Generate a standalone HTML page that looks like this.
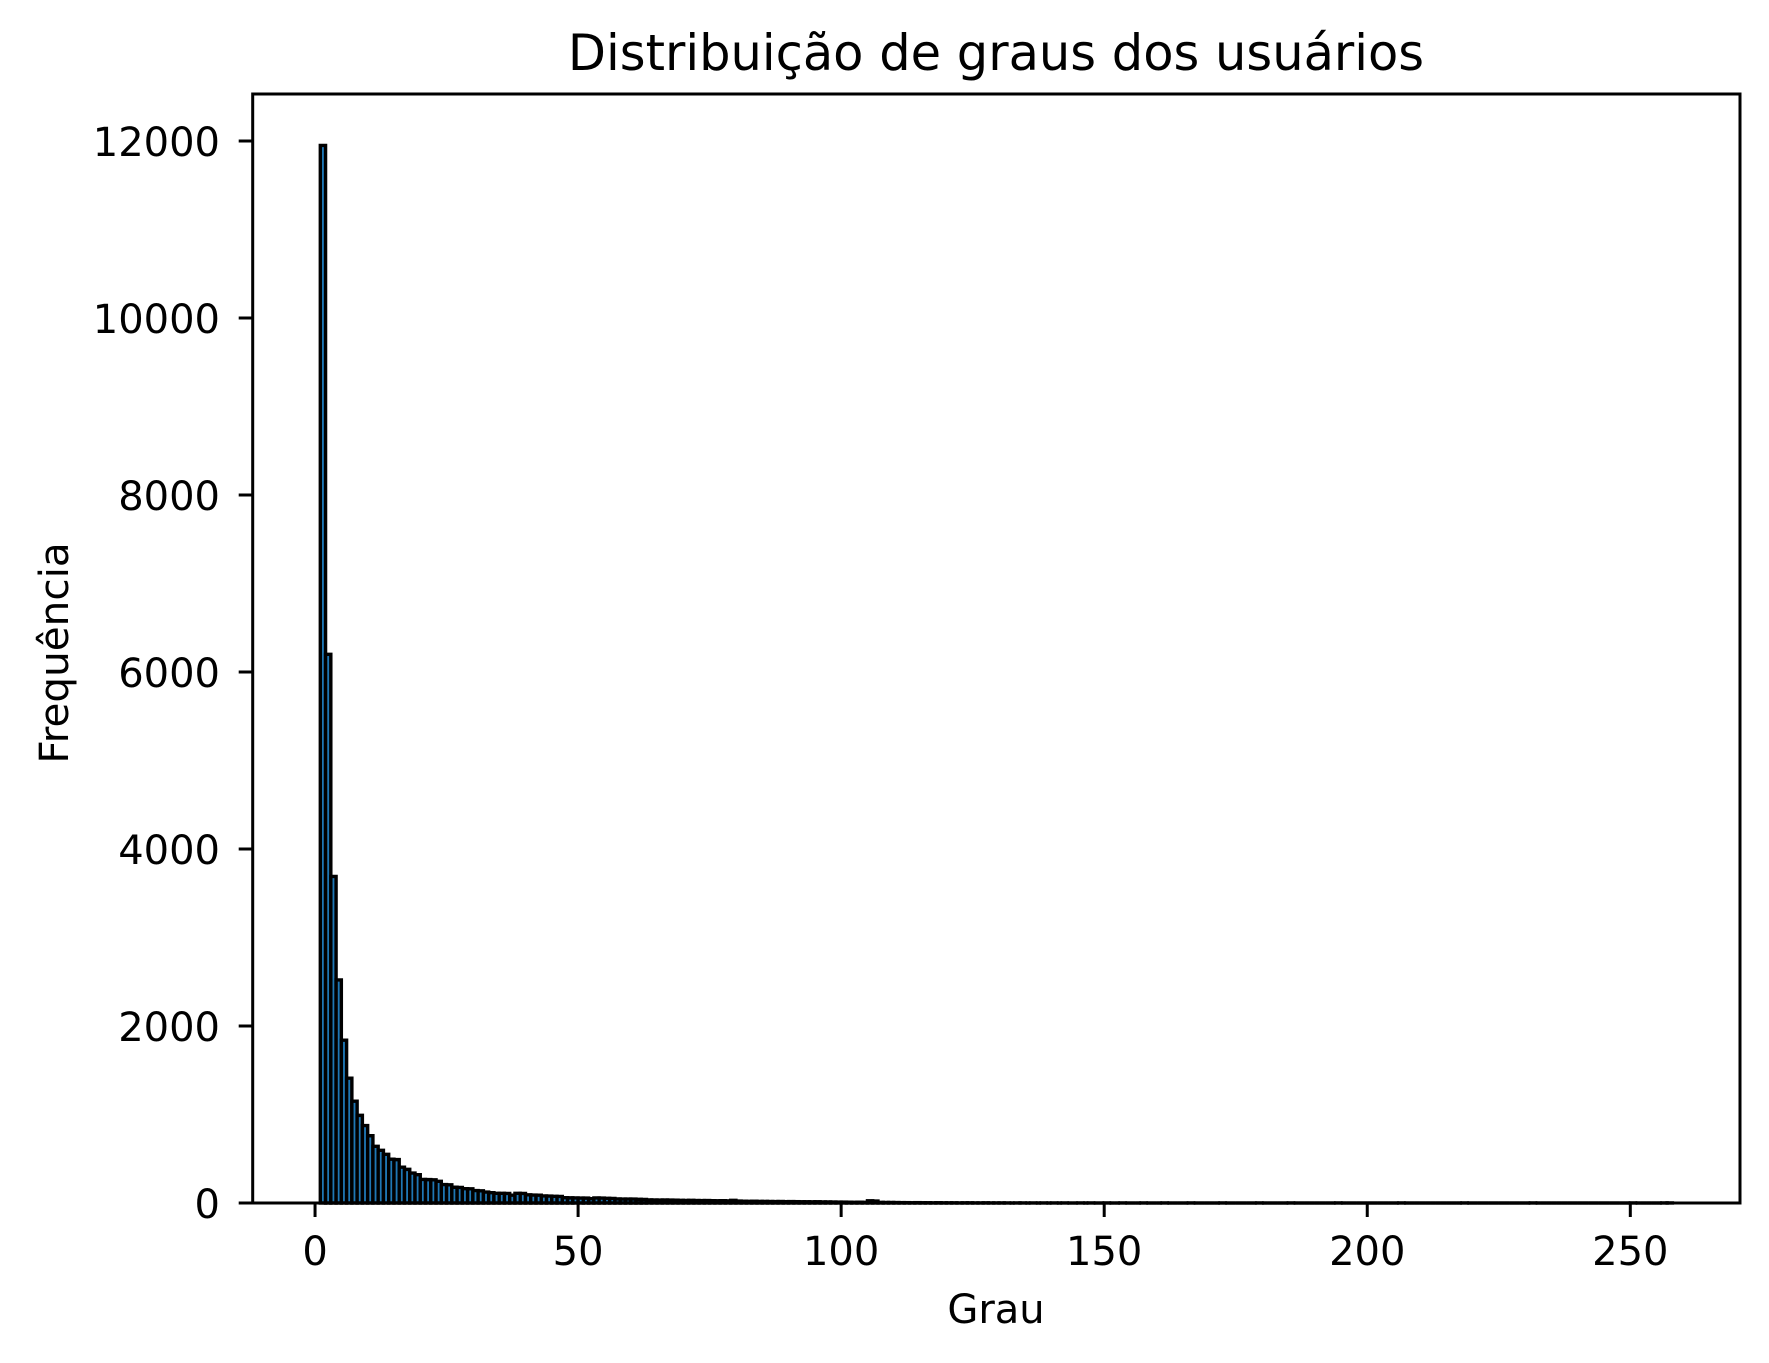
<!DOCTYPE html>
<html><head><meta charset="utf-8">
<style>
html,body{margin:0;padding:0;background:#fff;}
svg{display:block;font-family:"DejaVu Sans","Liberation Sans",sans-serif;}
</style></head>
<body>
<svg id="chart" width="1769" height="1363" viewBox="0 0 1769 1363" xmlns="http://www.w3.org/2000/svg">
<rect width="1769" height="1363" fill="#fff"/>
<g id="bars"></g>
<g id="axes"></g>
<text x="996" y="70" font-size="49.5" text-anchor="middle" fill="#000">Distribuição de graus dos usuários</text>
<text x="996" y="1323" font-size="40" text-anchor="middle" fill="#000">Grau</text>
<text x="68" y="653" font-size="40.5" text-anchor="middle" fill="#000" transform="rotate(-90 68 653)">Frequência</text>
</svg>
<script>
const binStart = 1;
const binWidth = 1;
const counts = [
11950,6200,3690,2520,1840,1410,1150,990,875,760,
640,595,550,495,490,405,380,338,320,266,
264,262,245,208,206,178,176,162,160,140,
138,124,117,110,109,108,88,110,108,92,
90,88,80,78,75,74,60,58,57,56,
55,49,57,56,53,52,46,45,44,44,
41,40,35,34,33,34,33,32,30,29,
30,28,27,28,26,25,26,24,30,22,
20,19,20,18,18,17,16,17,15,16,
15,14,14,13,14,12,12,11,10,10,
9,8,9,8,25,22,7,6,6,5,
4,4,3,4,3,3,2,3,2,2,
2,1,2,2,1,1,2,1,1,1,
1,0,1,1,0,1,0,1,0,1,
0,1,0,0,1,0,1,0,0,1,
0,0,1,0,0,0,1,0,0,0,
1,0,0,0,0,1,0,0,0,0,
0,1,0,0,0,0,0,0,1,0,
0,0,0,0,1,0,0,0,0,0,
0,0,0,1,0,0,0,0,0,0,
0,0,0,0,0,1,0,0,0,0,
0,0,0,0,0,0,0,1,0,0,
0,0,0,0,0,0,0,0,0,0,
1,0,0,0,0,0,0,0,0,0,
0,0,0,0,0,0,0,0,0,1,
0,0,0,0,0,1,1
];
const xTicks = [0,50,100,150,200,250];
const xTickLabels = ["0","50","100","150","200","250"];
const yTicks = [0,2000,4000,6000,8000,10000,12000];
const yTickLabels = ["0","2000","4000","6000","8000","10000","12000"];

const NS = "http://www.w3.org/2000/svg";
const L = 252.7, R = 1740, T = 94, B = 1203;
const xMin = -11.85, xMax = 270.85, yMax = 12531;
function xs(v){ return L + (v - xMin) / (xMax - xMin) * (R - L); }
function ys(v){ return B - v / yMax * (B - T); }

const barsG = document.getElementById('bars');
counts.forEach((c, i) => {
  const x0 = xs(binStart + i * binWidth), x1 = xs(binStart + (i + 1) * binWidth);
  const y = ys(c);
  const p = document.createElementNS(NS, 'path');
  p.setAttribute('d', `M${x0},${B} L${x0},${y} L${x1},${y} L${x1},${B} Z`);
  p.setAttribute('fill', '#1f77b4');
  p.setAttribute('stroke', '#000');
  p.setAttribute('stroke-width', '3.4');
  
  
  barsG.appendChild(p);
});

const axesG = document.getElementById('axes');
const frame = document.createElementNS(NS, 'rect');
frame.setAttribute('x', L); frame.setAttribute('y', T);
frame.setAttribute('width', R - L); frame.setAttribute('height', B - T);
frame.setAttribute('fill', 'none'); frame.setAttribute('stroke', '#000'); frame.setAttribute('stroke-width', '3');


axesG.appendChild(frame);

xTicks.forEach((t, i) => {
  const x = xs(t);
  const ln = document.createElementNS(NS, 'line');
  ln.setAttribute('x1', x); ln.setAttribute('x2', x);
  ln.setAttribute('y1', B); ln.setAttribute('y2', B + 14);
  ln.setAttribute('stroke', '#000'); ln.setAttribute('stroke-width', '3');
  
  
  axesG.appendChild(ln);
  const tx = document.createElementNS(NS, 'text');
  tx.setAttribute('x', x); tx.setAttribute('y', 1265);
  tx.setAttribute('font-size', '40'); tx.setAttribute('text-anchor', 'middle');
  tx.textContent = xTickLabels[i];
  
  
  axesG.appendChild(tx);
});

yTicks.forEach((t, i) => {
  const y = ys(t);
  const ln = document.createElementNS(NS, 'line');
  ln.setAttribute('x1', L - 14); ln.setAttribute('x2', L);
  ln.setAttribute('y1', y); ln.setAttribute('y2', y);
  ln.setAttribute('stroke', '#000'); ln.setAttribute('stroke-width', '3');
  
  
  axesG.appendChild(ln);
  const tx = document.createElementNS(NS, 'text');
  tx.setAttribute('x', 220); tx.setAttribute('y', y + 15);
  tx.setAttribute('font-size', '40'); tx.setAttribute('text-anchor', 'end');
  tx.textContent = yTickLabels[i];
  
  
  axesG.appendChild(tx);
});
</script>
</body></html>
